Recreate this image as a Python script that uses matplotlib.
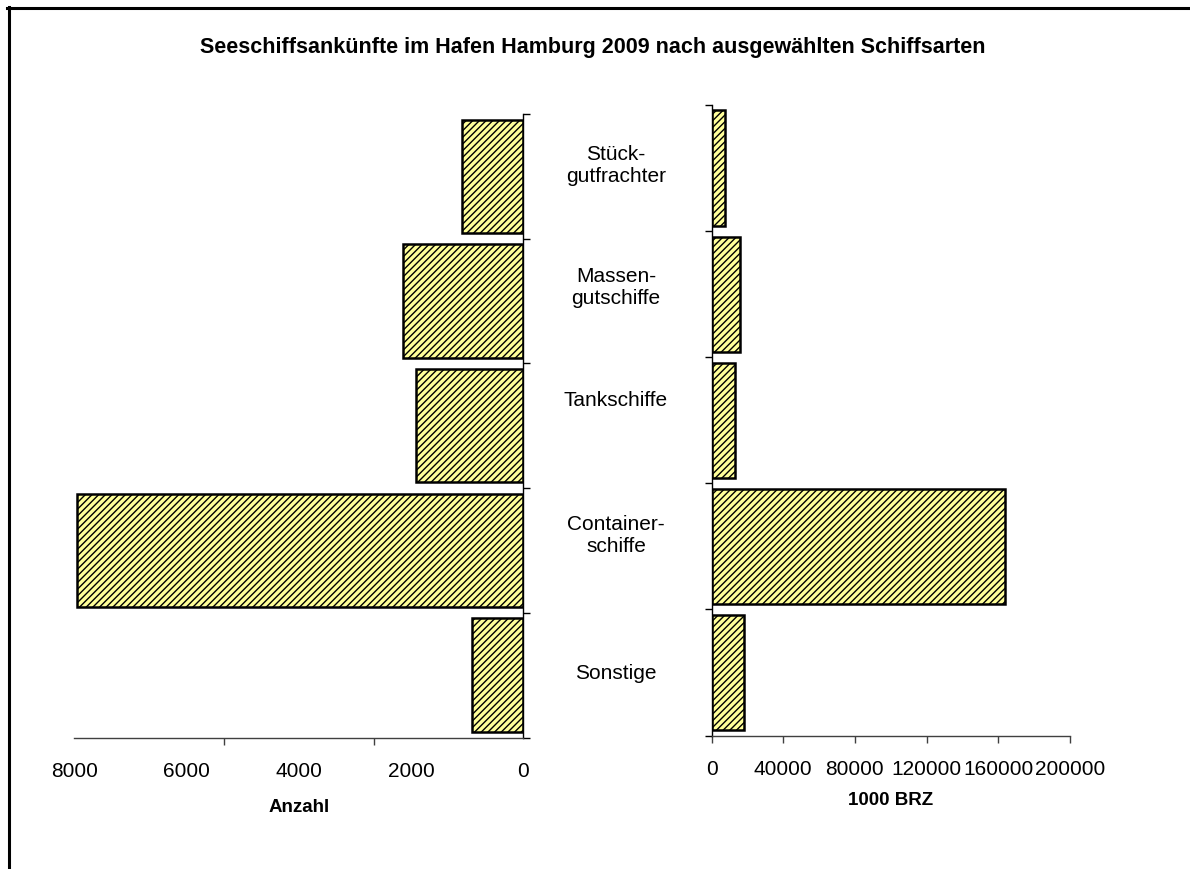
import numpy as np
import matplotlib
matplotlib.use("Agg")
import matplotlib.pyplot as plt
from matplotlib import transforms
from matplotlib.lines import Line2D
from matplotlib.ticker import FixedLocator, NullFormatter

plt.rcParams['font.family'] = ['Liberation Sans', 'DejaVu Sans']
plt.rcParams['hatch.linewidth'] = 1.0

# Schiffsarten (von oben nach unten)
categories = ["Stück-\ngutfrachter", "Massen-\ngutschiffe", "Tankschiffe",
              "Container-\nschiffe", "Sonstige"]
# Anzahl der Ankünfte
anzahl = [1100, 2150, 1910, 7950, 920]
# Bruttoraumzahl in 1000 BRZ
brz = [7400, 15800, 13000, 163900, 18000]

left_ticks = [8000, 6000, 4000, 2000, 0]
right_ticks = [0, 40000, 80000, 120000, 160000, 200000]

title = "Seeschiffsankünfte im Hafen Hamburg 2009 nach ausgewählten Schiffsarten"

W, H = 1190, 869
fig = plt.figure(figsize=(W / 100, H / 100), dpi=100)

# panel positions in pixels
ax1 = fig.add_axes([74.3 / W, 1 - 737.5 / H, 449 / W, 623.5 / H])
ax2 = fig.add_axes([711.7 / W, 1 - 735.5 / H, 358 / W, 630.5 / H])

bar_style = dict(color='#FFFF99', edgecolor='black', hatch='/////', linewidth=1.8)
y = np.arange(len(categories))

ax1.barh(y, anzahl, height=0.91, **bar_style)
ax2.barh(y, brz, height=0.913, **bar_style)

ax1.set_xlim(8000, 0)
ax2.set_xlim(0, 200000)
for ax in (ax1, ax2):
    ax.set_ylim(len(categories) - 0.5, -0.5)
    ax.set_yticks(np.arange(-0.5, len(categories), 1))
    ax.yaxis.set_major_formatter(NullFormatter())
    ax.spines['top'].set_visible(False)
    ax.spines['bottom'].set_color('#404040')
    ax.spines['bottom'].set_linewidth(1.0)
    ax.tick_params(axis='y', direction='out', length=5, width=1.0)

# left panel: category axis on the right
ax1.spines['left'].set_visible(False)
ax1.spines['right'].set_linewidth(1.0)
ax1.yaxis.set_ticks_position('right')
ax1.set_xticks(left_ticks)
ax1.set_xticklabels([str(t) for t in left_ticks])
ax1.xaxis.set_minor_locator(FixedLocator(np.linspace(0, 8000, 4)))
ax1.tick_params(axis='x', which='major', length=0, pad=17.5, labelsize=15)
ax1.tick_params(axis='x', which='minor', direction='out', length=5, width=1.0,
                color='#404040')

# right panel: category axis on the left
ax2.spines['right'].set_visible(False)
ax2.spines['left'].set_linewidth(1.0)
ax2.yaxis.set_ticks_position('left')
ax2.set_xticks(right_ticks)
ax2.set_xticklabels([str(t) for t in right_ticks])
ax2.tick_params(axis='x', direction='out', length=5, width=1.0, pad=12.5,
                labelsize=15, color='#404040')

ax1.set_xlabel("Anzahl", fontsize=13.5, fontweight='bold')
ax1.xaxis.set_label_coords(0.5, -0.098)
ax2.set_xlabel("1000 BRZ", fontsize=13.5, fontweight='bold')
ax2.xaxis.set_label_coords(0.5, -0.089)

# category names between the two panels
label_dy = [-0.09, -0.11, -0.2, -0.12, -0.01]
trans = transforms.blended_transform_factory(fig.transFigure, ax1.transData)
for i, lab in enumerate(categories):
    ax1.text(616 / W, i + label_dy[i], lab, transform=trans, ha='center',
             va='center', fontsize=15, linespacing=1.2, clip_on=False)

fig.text(0.4985, 1 - 48 / H, title, ha='center', va='center',
         fontsize=15.5, fontweight='bold')

# outer frame (top and left only)
fig.add_artist(Line2D([7 / W, 1], [1 - 7.5 / H, 1 - 7.5 / H],
                      transform=fig.transFigure, color='black', linewidth=2.2))
fig.add_artist(Line2D([8.5 / W, 8.5 / W], [0, 1 - 6.5 / H],
                      transform=fig.transFigure, color='black', linewidth=2.2))

fig.savefig("out.png", dpi=100)
